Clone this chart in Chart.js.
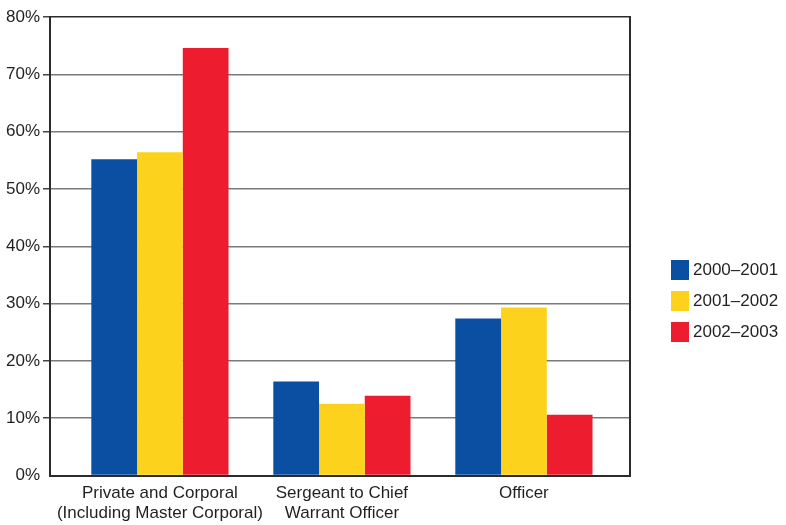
<!DOCTYPE html>
<html>
<head>
<meta charset="utf-8">
<script src="https://cdn.jsdelivr.net/npm/chart.js@4/dist/chart.umd.min.js"></script>
<style>
  html, body { margin: 0; padding: 0; background: #fff; }
  #wrap { position: relative; width: 786px; height: 525px; }
  #legend { position: absolute; left: 671px; top: 260px; font: 17px "Liberation Sans", Arial, sans-serif; color: #231f20; }
  #legend .item { display: flex; align-items: center; height: 20px; margin-bottom: 11px; }
  #legend .box { width: 18px; height: 20px; margin-right: 4px; }
</style>
</head>
<body>
<div id="wrap">
  <canvas id="myChart" width="786" height="525"></canvas>
  <div id="legend"></div>
</div>
<script>
// rank groups and yearly shares (%)
var categories = [
    ['Private and Corporal', '(Including Master Corporal)'],
    ['Sergeant to Chief', 'Warrant Officer'],
    ['Officer']
];
var years = ['2000\u20132001', '2001\u20132002', '2002\u20132003'];
var share0001 = [55.2, 16.4, 27.4];
var share0102 = [56.4, 12.5, 29.3];
var share0203 = [74.6, 13.9, 10.6];
var yTicks = [0, 10, 20, 30, 40, 50, 60, 70, 80];
var colors = ['#0b4fa2', '#fdd21c', '#ed1c2e'];

var groupPos = categories.map(function(c, i) { return i; });
var series = [share0001, share0102, share0203];

var datasets = series.map(function(vals, s) {
    return {
        label: years[s],
        data: vals.map(function(v, i) { return { x: groupPos[i], y: v }; }),
        backgroundColor: colors[s],
        borderWidth: 0,
        barPercentage: 1,
        categoryPercentage: 0.754
    };
});

var font = { family: '"Liberation Sans", Arial, sans-serif', size: 17 };

var ctx = document.getElementById('myChart').getContext('2d');
var myChart = new Chart(ctx, {
    type: 'bar',
    data: { datasets: datasets },
    options: {
        responsive: false,
        animation: false,
        layout: { padding: { left: 0, right: 156, top: 17, bottom: 0 } },
        plugins: { legend: { display: false }, tooltip: { enabled: false } },
        scales: {
            x: {
                type: 'linear',
                offset: false,
                min: -0.604,
                max: 2.583,
                grid: { display: false, drawTicks: false },
                border: { display: true, color: '#2b2b2b', width: 2 },
                afterBuildTicks: function(scale) {
                    scale.ticks = groupPos.map(function(v) { return { value: v }; });
                },
                afterFit: function(scale) { scale.height = 49.5; },
                ticks: {
                    autoSkip: false,
                    maxRotation: 0,
                    padding: 8,
                    color: '#231f20',
                    font: { family: font.family, size: 17, lineHeight: 1.15 },
                    callback: function(value, index) { return categories[index]; }
                }
            },
            y: {
                min: 0,
                max: 80,
                afterBuildTicks: function(scale) {
                    scale.ticks = yTicks.map(function(v) { return { value: v }; });
                },
                afterFit: function(scale) { scale.width = 50; },
                grid: {
                    lineWidth: 1.5,
                    tickLength: 7,
                    color: function(c) {
                        if (c.tick.value === 0) return 'rgba(0,0,0,0)';
                        return c.tick.value === 80 ? '#2b2b2b' : '#7a7a7a';
                    },
                    tickColor: function(c) {
                        return c.tick.value === 0 ? 'rgba(0,0,0,0)' : '#444';
                    }
                },
                border: { display: true, color: '#2b2b2b', width: 2 },
                ticks: {
                    padding: 3,
                    color: '#231f20',
                    font: font,
                    callback: function(v) { return v + '%'; }
                }
            },
            yRight: {
                type: 'linear',
                position: 'right',
                min: 0,
                max: 80,
                grid: { display: false, drawTicks: false },
                ticks: { display: false },
                border: { display: true, color: '#2b2b2b', width: 2 }
            }
        }
    }
});

// legend built from the dataset labels and colours
var legend = document.getElementById('legend');
years.forEach(function(y, s) {
    legend.innerHTML += '<div class="item"><span class="box" style="background:' + colors[s] + '"></span>' + y + '</div>';
});
</script>
</body>
</html>
